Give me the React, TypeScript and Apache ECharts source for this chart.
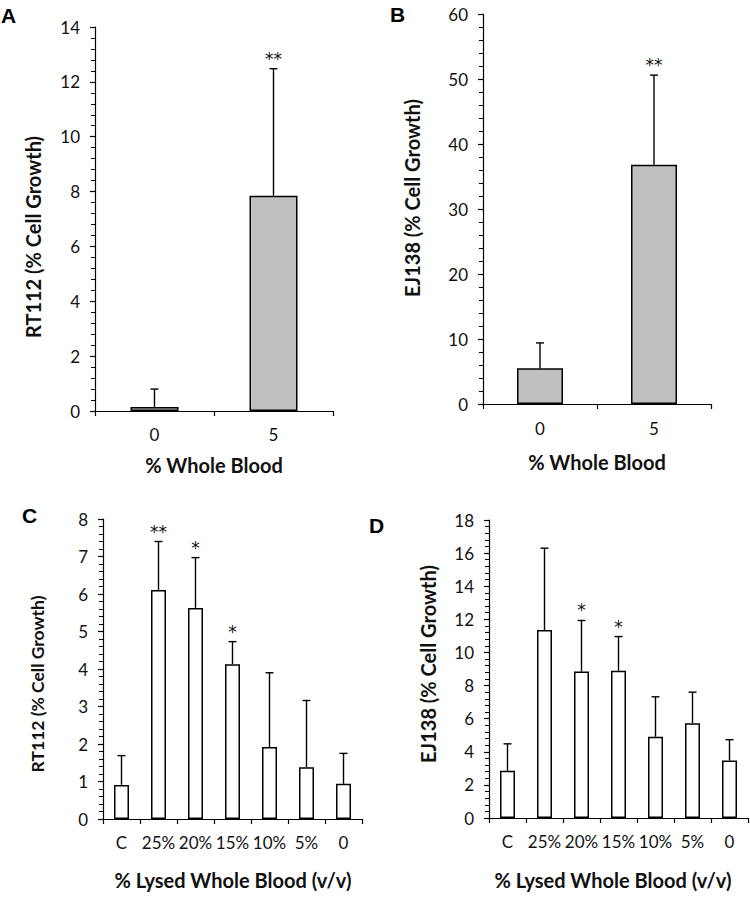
import React, { useEffect, useRef } from "react";
import * as echarts from "echarts";

// ---- Data ----
const catsAB = ["0", "5"];
const meanA = [0.15, 7.85];
const sdA = [0.65, 4.63];
const sigA = ["", "**"];

const meanB = [5.5, 36.8];
const sdB = [3.9, 13.8];
const sigB = ["", "**"];

const catsCD = ["C", "25%", "20%", "15%", "10%", "5%", "0"];
const meanC = [0.91, 6.11, 5.63, 4.13, 1.92, 1.38, 0.94];
const sdC = [0.78, 1.29, 1.34, 0.6, 1.98, 1.78, 0.81];
const sigC = ["", "**", "*", "*", "", "", ""];

const meanD = [2.85, 11.35, 8.85, 8.89, 4.91, 5.73, 3.48];
const sdD = [1.63, 4.95, 3.08, 2.07, 2.41, 1.87, 1.25];
const sigD = ["", "", "*", "*", "", "", ""];

const yMaxA = 14, yStepA = 2;
const yMaxB = 60, yStepB = 10;
const yMaxC = 8, yStepC = 1;
const yMaxD = 18, yStepD = 2;

const FONT = "Lato";

export default function App() {
  const ref = useRef<HTMLDivElement>(null);
  useEffect(() => {
    if (!ref.current) return;
    const chart = echarts.init(ref.current, null, { renderer: "svg" });

    const grids = [
      { left: 95, top: 27, width: 238, height: 384 },
      { left: 483, top: 14, width: 228, height: 390 },
      { left: 103, top: 519, width: 259, height: 300 },
      { left: 489, top: 520, width: 259, height: 298 },
    ];
    const cats = [catsAB, catsAB, catsCD, catsCD];
    const means = [meanA, meanB, meanC, meanD];
    const sds = [sdA, sdB, sdC, sdD];
    const sigs = [sigA, sigB, sigC, sigD];
    const ymax = [yMaxA, yMaxB, yMaxC, yMaxD];
    const ystep = [yStepA, yStepB, yStepC, yStepD];
    const barW = [48, 46, 15, 15];
    const fills = ["#c0c0c0", "#c0c0c0", "#ffffff", "#ffffff"];
    const labelMargin = [15, 16, 15, 15];
    const xLabelSize = [17, 17, 17, 17];

    const xAxis = grids.map((_, i) => ({
      type: "category",
      gridIndex: i,
      data: cats[i],
      boundaryGap: true,
      axisLine: { show: true, lineStyle: { color: "#000", width: 1.2 } },
      axisTick: { show: true, length: 5, alignWithLabel: false, lineStyle: { color: "#000", width: 1.2 } },
      axisLabel: {
        color: "#111",
        fontFamily: FONT,
        fontSize: xLabelSize[i],
        margin: labelMargin[i],
        interval: 0,
        hideOverlap: false,
      },
      splitLine: { show: false },
    }));
    const yAxis = grids.map((_, i) => ({
      type: "value",
      gridIndex: i,
      min: 0,
      max: ymax[i],
      interval: ystep[i],
      axisLine: { show: true, lineStyle: { color: "#000", width: 1.2 } },
      axisTick: { show: true, length: 5, lineStyle: { color: "#000", width: 1.2 } },
      minorTick: { show: true, splitNumber: 5, length: 4, lineStyle: { color: "#000", width: 1 } },
      axisLabel: { color: "#111", fontFamily: FONT, fontSize: 17, margin: 15 },
      splitLine: { show: false },
      minorSplitLine: { show: false },
    }));

    const series: any[] = [];
    grids.forEach((_, i) => {
      series.push({
        type: "bar",
        xAxisIndex: i,
        yAxisIndex: i,
        data: means[i],
        barWidth: barW[i],
        itemStyle: { color: fills[i], borderColor: "#000", borderWidth: 1.5 },
        z: 2,
      });
      const sig = sigs[i];
      series.push({
        type: "custom",
        xAxisIndex: i,
        yAxisIndex: i,
        z: 3,
        data: means[i].map((m, k) => [k, m, sds[i][k]]),
        renderItem: (params: any, api: any) => {
          const k = api.value(0);
          const m = api.value(1);
          const s = api.value(2);
          const p0 = api.coord([k, m]);
          const p1 = api.coord([k, m + s]);
          const cap = 4;
          const children: any[] = [
            { type: "line", shape: { x1: p0[0], y1: p0[1], x2: p1[0], y2: p1[1] }, style: { stroke: "#000", lineWidth: 1.4 } },
            { type: "line", shape: { x1: p1[0] - cap, y1: p1[1], x2: p1[0] + cap, y2: p1[1] }, style: { stroke: "#000", lineWidth: 1.4 } },
          ];
          const t = sig[params.dataIndex];
          if (t) {
            children.push({
              type: "text",
              x: p1[0],
              y: p1[1] - 10,
              style: {
                text: t,
                fontFamily: "DejaVu Sans",
                fontSize: 17,
                fill: "#111",
                textAlign: "center",
                textVerticalAlign: "middle",
              },
            });
          }
          return { type: "group", children };
        },
      });
    });

    const yTitle = (text: string, x: number, y: number, size: number) => ({
      type: "text",
      x,
      y,
      rotation: Math.PI / 2,
      style: {
        text,
        font: `bold ${size}px ${FONT}`,
        fill: "#111",
        textAlign: "center",
        textVerticalAlign: "middle",
      },
    });
    const xTitle = (text: string, x: number, y: number, size: number) => ({
      type: "text",
      x,
      y,
      style: {
        text,
        font: `bold ${size}px ${FONT}`,
        fill: "#111",
        textAlign: "center",
        textVerticalAlign: "middle",
      },
    });
    const letter = (text: string, x: number, y: number) => ({
      type: "text",
      x,
      y,
      style: {
        text,
        font: "bold 21px 'Liberation Sans'",
        fill: "#000",
        textAlign: "left",
        textVerticalAlign: "middle",
      },
    });

    chart.setOption({
      animation: false,
      backgroundColor: "#fff",
      grid: grids.map((g) => ({ ...g, containLabel: false })),
      xAxis,
      yAxis,
      series,
      graphic: [
        letter("A", 1, 15),
        letter("B", 390, 14),
        letter("C", 22, 515),
        letter("D", 369, 525),
        yTitle("RT112 (% Cell Growth)", 33, 237, 20),
        yTitle("EJ138 (% Cell Growth)", 412, 198, 20),
        yTitle("RT112 (% Cell Growth)", 37, 684, 17.5),
        yTitle("EJ138 (% Cell Growth)", 428, 664, 20),
        xTitle("% Whole Blood", 214, 465, 20),
        xTitle("% Whole Blood", 597, 462, 20),
        xTitle("% Lysed Whole Blood (v/v)", 233, 880, 20),
        xTitle("% Lysed Whole Blood (v/v)", 613, 880, 20),
      ],
    });
    return () => chart.dispose();
  }, []);
  return (
    <div
      ref={ref}
      style={{ position: "absolute", left: 0, top: 0, width: 750, height: 897, background: "#fff" }}
    />
  );
}
